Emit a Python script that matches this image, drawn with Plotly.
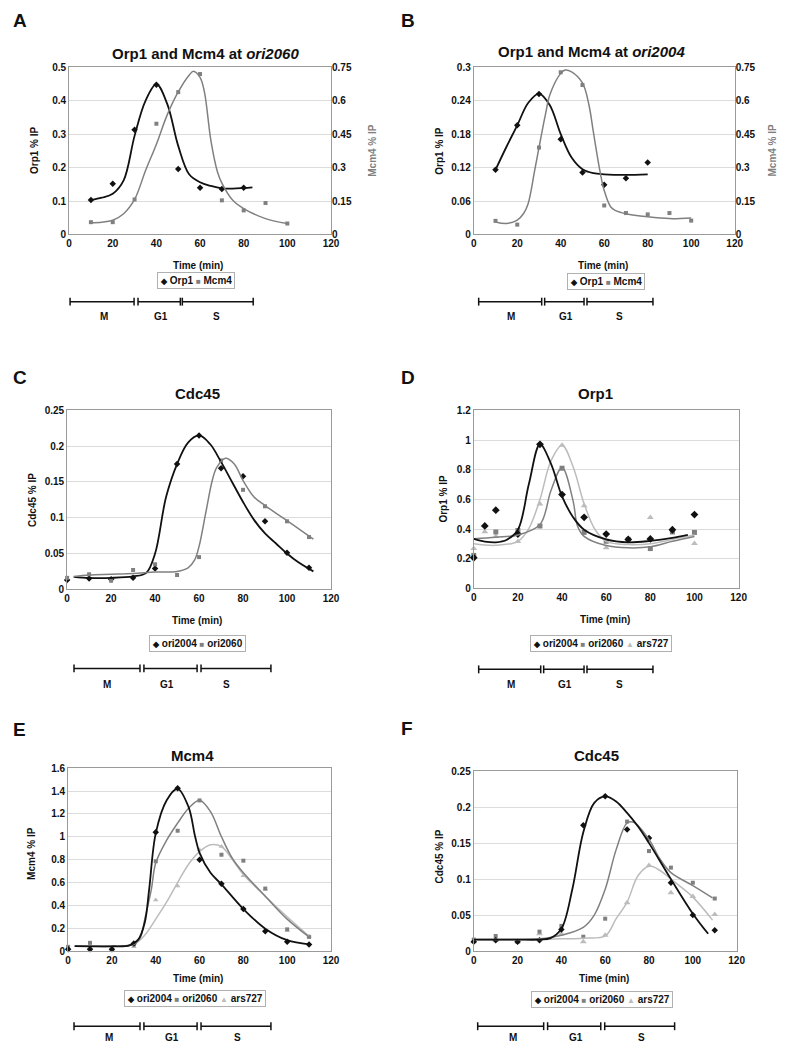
import plotly.graph_objects as go

# ---------------- data ----------------
# A: Orp1 and Mcm4 at ori2060
a_orp1_time = [10, 20, 30, 40, 50, 60, 70, 80]
a_orp1 = [0.103, 0.152, 0.313, 0.448, 0.196, 0.140, 0.136, 0.140]
a_mcm4_time = [10, 20, 30, 40, 50, 60, 70, 80, 90, 100]
a_mcm4 = [0.055, 0.055, 0.157, 0.497, 0.639, 0.720, 0.153, 0.108, 0.141, 0.049]
a_orp1_fit_time = [10, 15, 20, 25, 30, 35, 40, 45, 50, 55, 60, 65, 70, 75, 80, 84]
a_orp1_fit = [0.103, 0.110, 0.122, 0.162, 0.295, 0.400, 0.450, 0.390, 0.265, 0.180, 0.156, 0.145, 0.138, 0.137, 0.139, 0.141]
a_mcm4_fit_time = [10, 15, 20, 25, 30, 35, 40, 45, 50, 55, 57, 60, 62, 65, 68, 70, 75, 80, 90, 100]
a_mcm4_fit = [0.053, 0.055, 0.064, 0.093, 0.157, 0.286, 0.405, 0.538, 0.640, 0.715, 0.733, 0.705, 0.640, 0.420, 0.280, 0.230, 0.153, 0.116, 0.071, 0.049]

# B: Orp1 and Mcm4 at ori2004
b_orp1_time = [10, 20, 30, 40, 50, 60, 70, 80]
b_orp1 = [0.116, 0.196, 0.252, 0.171, 0.111, 0.089, 0.101, 0.129]
b_mcm4_time = [10, 20, 30, 40, 50, 60, 70, 80, 90, 100]
b_mcm4 = [0.061, 0.044, 0.390, 0.728, 0.671, 0.130, 0.096, 0.090, 0.096, 0.062]
b_orp1_fit_time = [10, 15, 20, 25, 30, 35, 40, 45, 50, 55, 60, 70, 80]
b_orp1_fit = [0.116, 0.157, 0.196, 0.236, 0.253, 0.232, 0.180, 0.138, 0.117, 0.110, 0.108, 0.107, 0.108]
b_mcm4_fit_time = [10, 15, 20, 23, 25, 28, 30, 33, 35, 40, 42, 45, 50, 53, 55, 58, 60, 63, 65, 70, 80, 90, 100]
b_mcm4_fit = [0.056, 0.049, 0.064, 0.095, 0.138, 0.286, 0.390, 0.540, 0.627, 0.723, 0.738, 0.730, 0.680, 0.580, 0.460, 0.286, 0.197, 0.123, 0.108, 0.093, 0.079, 0.071, 0.074]

# C: Cdc45
c_time = [0, 10, 20, 30, 40, 50, 60, 70, 80, 90, 100, 110]
c_ori2004 = [0.013, 0.015, 0.014, 0.016, 0.029, 0.175, 0.215, 0.169, 0.158, 0.095, 0.051, 0.030]
c_ori2060 = [0.016, 0.021, 0.012, 0.027, 0.035, 0.020, 0.045, 0.180, 0.139, 0.116, 0.095, 0.073]
c_ori2004_fit_time = [3, 10, 20, 30, 36, 40, 45, 50, 55, 60, 65, 70, 75, 80, 85, 90, 95, 100, 105, 112]
c_ori2004_fit = [0.0175, 0.016, 0.016, 0.018, 0.023, 0.050, 0.129, 0.175, 0.205, 0.215, 0.203, 0.178, 0.150, 0.122, 0.097, 0.078, 0.064, 0.050, 0.038, 0.025]
c_ori2060_fit_time = [3, 10, 20, 30, 40, 50, 55, 58, 60, 63, 66, 68, 72, 76, 80, 85, 90, 100, 112]
c_ori2060_fit = [0.018, 0.020, 0.021, 0.022, 0.024, 0.025, 0.030, 0.041, 0.060, 0.106, 0.152, 0.170, 0.183, 0.175, 0.152, 0.129, 0.117, 0.096, 0.070]

# D: Orp1
d_ori2004_time = [0, 5, 10, 20, 30, 40, 50, 60, 70, 80, 90, 100]
d_ori2004 = [0.206, 0.421, 0.527, 0.366, 0.971, 0.632, 0.479, 0.366, 0.330, 0.333, 0.395, 0.497]
d_ori2060_time = [0, 10, 20, 30, 40, 50, 60, 70, 80, 90, 100]
d_ori2060 = [0.222, 0.380, 0.390, 0.420, 0.810, 0.377, 0.317, 0.330, 0.268, 0.380, 0.377]
d_ars727_time = [0, 5, 10, 20, 30, 40, 50, 60, 70, 80, 100]
d_ars727 = [0.268, 0.382, 0.350, 0.315, 0.568, 0.965, 0.557, 0.273, 0.335, 0.477, 0.302]
d_ori2004_fit_time = [0, 5, 10, 15, 20, 25, 30, 35, 40, 45, 50, 60, 70, 80, 90, 97]
d_ori2004_fit = [0.333, 0.315, 0.310, 0.328, 0.395, 0.705, 0.970, 0.840, 0.620, 0.480, 0.395, 0.330, 0.310, 0.320, 0.340, 0.360]
d_ori2060_fit_time = [0, 10, 20, 30, 35, 40, 45, 47, 50, 60, 70, 80, 90, 100]
d_ori2060_fit = [0.335, 0.345, 0.360, 0.430, 0.660, 0.815, 0.590, 0.420, 0.350, 0.288, 0.273, 0.280, 0.317, 0.350]
d_ars727_fit_time = [0, 10, 20, 25, 30, 35, 40, 45, 50, 55, 60, 70, 80, 90, 100]
d_ars727_fit = [0.300, 0.290, 0.317, 0.405, 0.600, 0.860, 0.965, 0.820, 0.570, 0.395, 0.317, 0.295, 0.300, 0.330, 0.360]

# E: Mcm4
e_time = [0, 10, 20, 30, 40, 50, 60, 70, 80, 90, 100, 110]
e_ori2004 = [0.017, 0.017, 0.015, 0.066, 1.039, 1.424, 0.800, 0.590, 0.368, 0.173, 0.081, 0.058]
e_ori2060 = [0.037, 0.072, 0.014, 0.058, 0.786, 1.053, 1.318, 0.843, 0.791, 0.547, 0.190, 0.124]
e_ars727 = [0.023, 0.030, 0.014, 0.037, 0.446, 0.570, 0.886, 0.915, 0.660, 0.540, 0.180, 0.130]
e_ori2004_fit_time = [3, 10, 20, 28, 32, 35, 37, 40, 45, 50, 55, 58, 60, 65, 70, 80, 90, 100, 110]
e_ori2004_fit = [0.043, 0.042, 0.042, 0.050, 0.100, 0.250, 0.540, 1.030, 1.320, 1.420, 1.260, 1.000, 0.860, 0.685, 0.584, 0.368, 0.196, 0.095, 0.058]
e_ori2060_fit_time = [3, 10, 20, 30, 33, 35, 38, 40, 45, 50, 55, 60, 65, 70, 75, 80, 90, 100, 110]
e_ori2060_fit = [0.043, 0.042, 0.042, 0.060, 0.120, 0.280, 0.540, 0.770, 0.970, 1.120, 1.250, 1.320, 1.220, 1.000, 0.810, 0.685, 0.480, 0.280, 0.124]
e_ars727_fit_time = [3, 10, 20, 30, 35, 40, 45, 50, 55, 60, 65, 70, 75, 80, 90, 100, 110]
e_ars727_fit = [0.043, 0.042, 0.042, 0.060, 0.140, 0.280, 0.430, 0.600, 0.760, 0.870, 0.930, 0.915, 0.800, 0.670, 0.480, 0.300, 0.130]

# F: Cdc45 (three origins)
f_time = [0, 10, 20, 30, 40, 50, 60, 70, 80, 90, 100, 110]
f_ori2004 = [0.013, 0.015, 0.013, 0.015, 0.030, 0.175, 0.215, 0.169, 0.157, 0.095, 0.050, 0.029]
f_ori2060 = [0.016, 0.021, 0.013, 0.027, 0.035, 0.020, 0.045, 0.180, 0.139, 0.116, 0.095, 0.073]
f_ars727 = [0.013, 0.015, 0.013, 0.024, 0.024, 0.013, 0.022, 0.067, 0.119, 0.081, 0.076, 0.051]
f_ori2004_fit_time = [0, 10, 20, 30, 35, 40, 45, 50, 55, 60, 65, 70, 75, 80, 90, 100, 107]
f_ori2004_fit = [0.016, 0.016, 0.016, 0.016, 0.018, 0.031, 0.086, 0.165, 0.206, 0.215, 0.208, 0.192, 0.173, 0.150, 0.100, 0.052, 0.024]
f_ori2060_fit_time = [0, 10, 20, 30, 40, 50, 55, 60, 65, 70, 73, 80, 85, 90, 100, 109]
f_ori2060_fit = [0.016, 0.016, 0.016, 0.017, 0.022, 0.033, 0.050, 0.086, 0.141, 0.178, 0.179, 0.155, 0.128, 0.109, 0.091, 0.074]
f_ars727_fit_time = [0, 10, 20, 30, 40, 50, 60, 65, 70, 75, 80, 85, 90, 100, 109]
f_ars727_fit = [0.016, 0.016, 0.016, 0.016, 0.017, 0.018, 0.021, 0.045, 0.068, 0.105, 0.118, 0.112, 0.100, 0.075, 0.043]

phase_labels = ["M", "G1", "S"]

# ---------------- styling ----------------
# the page body adds an 8px margin, so the figure is drawn 8px in from the corner
OFF = 8
W, H = 787 - OFF, 1050 - OFF
FONT = "Liberation Sans, Arial, Helvetica, sans-serif"
BLACK = "#111111"
GREY = "#808080"
LIGHT = "#bcbcbc"
FRAME = "#9a9a9a"
GRID = "#dcdcdc"


def px(x):
    return (x - OFF) / W


def py(y):
    return 1 - (y - OFF) / H


fig = go.Figure()


def points(x, y, xa, ya, symbol, color, size):
    fig.add_trace(go.Scatter(x=x, y=y, xaxis=xa, yaxis=ya, mode="markers", cliponaxis=False,
                             marker=dict(symbol=symbol, color=color, size=size, line=dict(width=0)),
                             showlegend=False, hoverinfo="skip"))


def curve(x, y, xa, ya, color, width=1.8):
    fig.add_trace(go.Scatter(x=x, y=y, xaxis=xa, yaxis=ya, mode="lines",
                             line=dict(color=color, width=width, shape="spline", smoothing=1.0),
                             showlegend=False, hoverinfo="skip"))


tickfont = dict(family=FONT, size=10, color="#111", weight="bold")


def x_axis(x0, x1, anchor):
    return dict(domain=[px(x0), px(x1)], anchor=anchor, range=[0, 120], dtick=20,
                showgrid=False, zeroline=False, showline=True, linecolor=FRAME, mirror=True,
                ticks="", tickfont=tickfont, fixedrange=True)


def y_axis(y0, y1, anchor, top, dtick):
    return dict(domain=[py(y1), py(y0)], anchor=anchor, range=[0, top], dtick=dtick,
                showgrid=True, gridcolor=GRID, zeroline=False, showline=True, linecolor=FRAME,
                mirror=True, ticks="", tickfont=tickfont, fixedrange=True)


def y_right(overlay, anchor, top, dtick):
    return dict(overlaying=overlay, anchor=anchor, side="right", range=[0, top], dtick=dtick,
                showgrid=False, zeroline=False, showline=False, ticks="",
                tickfont=tickfont, fixedrange=True)


# ---------------- panels ----------------
# A
points(a_orp1_time, a_orp1, "x", "y", "diamond", BLACK, 5)
points(a_mcm4_time, a_mcm4, "x", "y2", "square", GREY, 4)
curve(a_orp1_fit_time, a_orp1_fit, "x", "y", BLACK)
curve(a_mcm4_fit_time, a_mcm4_fit, "x", "y2", GREY, 1.5)

# B
points(b_orp1_time, b_orp1, "x2", "y3", "diamond", BLACK, 5)
points(b_mcm4_time, b_mcm4, "x2", "y4", "square", GREY, 4)
curve(b_orp1_fit_time, b_orp1_fit, "x2", "y3", BLACK)
curve(b_mcm4_fit_time, b_mcm4_fit, "x2", "y4", GREY, 1.5)

# C
points(c_time, c_ori2004, "x3", "y5", "diamond", BLACK, 5)
points(c_time, c_ori2060, "x3", "y5", "square", GREY, 4)
curve(c_ori2004_fit_time, c_ori2004_fit, "x3", "y5", BLACK)
curve(c_ori2060_fit_time, c_ori2060_fit, "x3", "y5", GREY, 1.5)

# D
points(d_ars727_time, d_ars727, "x4", "y6", "triangle-up", LIGHT, 6)
points(d_ori2060_time, d_ori2060, "x4", "y6", "square", GREY, 5)
points(d_ori2004_time, d_ori2004, "x4", "y6", "diamond", BLACK, 6)
curve(d_ars727_fit_time, d_ars727_fit, "x4", "y6", LIGHT, 1.5)
curve(d_ori2060_fit_time, d_ori2060_fit, "x4", "y6", GREY, 1.5)
curve(d_ori2004_fit_time, d_ori2004_fit, "x4", "y6", BLACK)

# E
points(e_time, e_ars727, "x5", "y7", "triangle-up", LIGHT, 5)
points(e_time, e_ori2060, "x5", "y7", "square", GREY, 4)
points(e_time, e_ori2004, "x5", "y7", "diamond", BLACK, 5)
curve(e_ars727_fit_time, e_ars727_fit, "x5", "y7", LIGHT, 1.5)
curve(e_ori2060_fit_time, e_ori2060_fit, "x5", "y7", GREY, 1.5)
curve(e_ori2004_fit_time, e_ori2004_fit, "x5", "y7", BLACK)

# F
points(f_time, f_ars727, "x6", "y8", "triangle-up", LIGHT, 6)
points(f_time, f_ori2060, "x6", "y8", "square", GREY, 4)
points(f_time, f_ori2004, "x6", "y8", "diamond", BLACK, 5)
curve(f_ars727_fit_time, f_ars727_fit, "x6", "y8", LIGHT, 1.5)
curve(f_ori2060_fit_time, f_ori2060_fit, "x6", "y8", GREY, 1.5)
curve(f_ori2004_fit_time, f_ori2004_fit, "x6", "y8", BLACK)

layout = dict(
    width=W, height=H, margin=dict(l=0, r=0, t=0, b=0),
    paper_bgcolor="white", plot_bgcolor="white", showlegend=False,
    font=dict(family=FONT, color="#111"),
    xaxis=x_axis(67, 333, "y"), yaxis=y_axis(62, 231, "x", 0.5, 0.1),
    yaxis2=y_right("y", "x", 0.75, 0.15),
    xaxis2=x_axis(478, 743, "y3"), yaxis3=y_axis(62, 231, "x2", 0.3, 0.06),
    yaxis4=y_right("y3", "x2", 0.75, 0.15),
    xaxis3=x_axis(65, 333, "y5"), yaxis5=y_axis(409, 590, "x3", 0.25, 0.05),
    xaxis4=x_axis(478, 747, "y6"), yaxis6=y_axis(409, 589, "x4", 1.2, 0.2),
    xaxis5=x_axis(66, 333, "y7"), yaxis7=y_axis(771, 956, "x5", 1.6, 0.2),
    xaxis6=x_axis(478, 745, "y8"), yaxis8=y_axis(774, 956, "x6", 0.25, 0.05),
)
fig.update_layout(**layout)

ann = []


def text(x, y, s, size=10, color="#111", angle=0, anchor="center", **kw):
    ann.append(dict(x=px(x), y=py(y), xref="paper", yref="paper", text=s, showarrow=False,
                    xanchor=anchor, yanchor="middle", textangle=angle,
                    font=dict(family=FONT, size=size, color=color, weight="bold"), **kw))


def legend_box(x, y, names, colors, syms):
    parts = []
    for n, c, s in zip(names, colors, syms):
        parts.append(f"<span style='color:{c};font-size:8px'>{s}</span> {n}")
    text(x, y, " ".join(parts), size=10, bordercolor="#b0b0b0", borderwidth=1, borderpad=2,
         bgcolor="white")


# panel letters
for letter, x, y in [("A", 8, 15), ("B", 402, 15), ("C", 8, 376), ("D", 402, 376),
                     ("E", 8, 732), ("F", 402, 731)]:
    text(x, y, letter, size=19, anchor="left")

# titles
text(206, 48, "Orp1 and Mcm4 at <i>ori2060</i>", size=15)
text(598, 46, "Orp1 and Mcm4 at <i>ori2004</i>", size=15)
text(197, 392, "Cdc45", size=15)
text(602, 392, "Orp1", size=15)
text(192, 758, "Mcm4", size=15)
text(603, 758, "Cdc45", size=15)

# y axis titles
text(32, 146, "Orp1 % IP", angle=-90)
text(375, 146, "Mcm4 % IP", color=GREY, angle=-90)
text(443, 146, "Orp1 % IP", angle=-90)
text(781, 146, "Mcm4 % IP", color=GREY, angle=-90)
text(30, 500, "Cdc45 % IP", angle=-90)
text(447, 498, "Orp1 % IP", angle=-90)
text(29, 857, "Mcm4 % IP", angle=-90)
text(443, 860, "Cdc45 % IP", angle=-90)

# x axis titles
for x, y in [(198, 262), (609, 262), (197, 622), (611, 621), (198, 984), (610, 984)]:
    text(x, y, "Time (min)")

# legends
legend_box(196, 278, ["Orp1", "Mcm4"], [BLACK, GREY], ["◆", "■"])
legend_box(612, 279, ["Orp1", "Mcm4"], [BLACK, GREY], ["◆", "■"])
legend_box(197, 645, ["ori2004", "ori2060"], [BLACK, GREY], ["◆", "■"])
legend_box(607, 645, ["ori2004", "ori2060", "ars727"], [BLACK, GREY, LIGHT], ["◆", "■", "▲"])
legend_box(195, 1004, ["ori2004", "ori2060", "ars727"], [BLACK, GREY, LIGHT], ["◆", "■", "▲"])
legend_box(608, 1005, ["ori2004", "ori2060", "ars727"], [BLACK, GREY, LIGHT], ["◆", "■", "▲"])

# cell-cycle phase bars
shapes = []
phase_bars = [
    (299, [(68, 133), (137, 180), (182, 254)], 314, [102, 160, 217]),
    (299, [(483, 547), (550, 590), (593, 660)], 314, [516, 572, 626]),
    (670, [(72, 139), (143, 197), (201, 272)], 686, [106, 166, 227]),
    (671, [(483, 546), (549, 590), (593, 660)], 686, [516, 571, 626]),
    (1032, [(72, 139), (143, 197), (201, 272)], 1043, [108, 172, 238]),
    (1032, [(482, 549), (553, 607), (611, 682)], 1043, [518, 582, 648]),
]
for ybar, segs, ylab, xlabs in phase_bars:
    for (x0, x1), lab, xl in zip(segs, phase_labels, xlabs):
        line = dict(color="#111", width=1.5)
        shapes.append(dict(type="line", xref="paper", yref="paper",
                           x0=px(x0), x1=px(x1), y0=py(ybar), y1=py(ybar), line=line))
        for xe in (x0, x1):
            shapes.append(dict(type="line", xref="paper", yref="paper",
                               x0=px(xe), x1=px(xe), y0=py(ybar - 4), y1=py(ybar + 4), line=line))
        text(xl, ylab, lab, size=10)

fig.update_layout(annotations=ann, shapes=shapes)

fig.write_html("out.html")
